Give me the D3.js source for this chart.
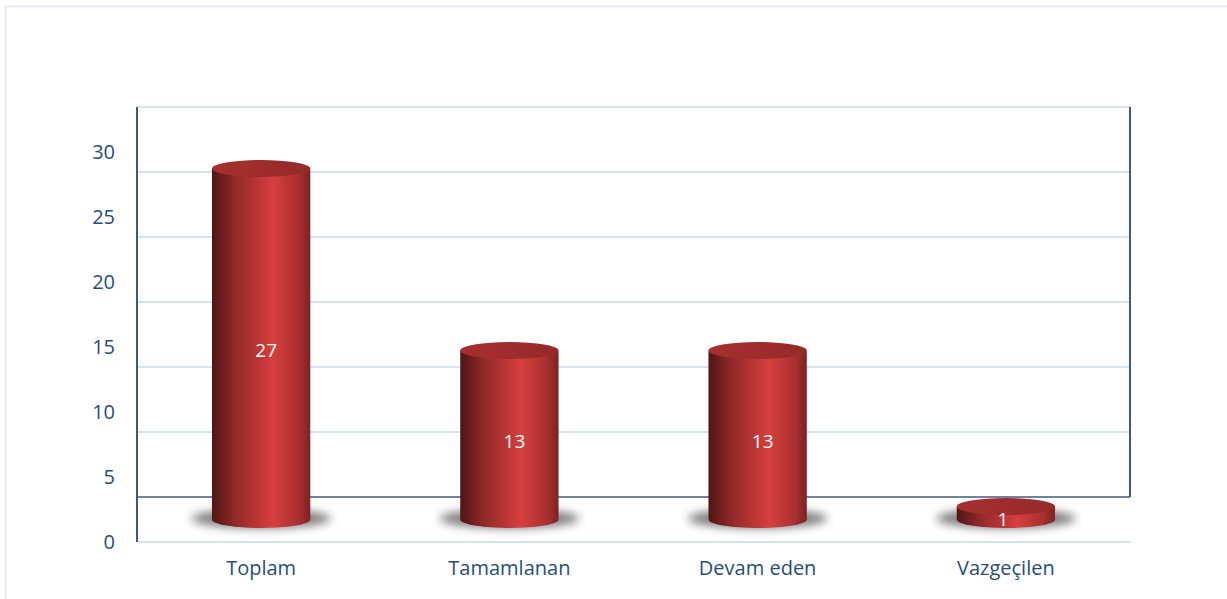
<!DOCTYPE html>
<html>
<head>
<meta charset="utf-8">
<script src="https://cdn.jsdelivr.net/npm/d3@7"></script>
<style>
  body { margin: 0; background: #fff; }
  svg text { font-family: "Open Sans", "Noto Sans", sans-serif; }
</style>
</head>
<body>
<svg id="chart" width="1227" height="599"></svg>
<script>
// chart data
var categories = ["Toplam", "Tamamlanan", "Devam eden", "Vazgeçilen"];
var values = [27, 13, 13, 1];
var yTicks = [0, 5, 10, 15, 20, 25, 30];

var width = 1227,
    height = 599,
    svg = d3.select("#chart");

// plot area (front plane), depth shifts the back wall up
var left = 137, right = 1130,
    front0 = 542, depth = 45;

var x = d3.scaleBand().domain(categories).range([left, right]);
var y = d3.scaleLinear().domain([0, 30]).range([front0, front0 - 390]);

var textColor = "#264d7e";

// outer chart border
svg.append("rect")
  .attr("x", 5.5).attr("y", 6.5)
  .attr("width", 1240).attr("height", 620)
  .attr("fill", "none")
  .attr("stroke", "#dae4f2")
  .attr("stroke-width", 1.5);

var defs = svg.append("defs");

// body gradient: dark left edge, highlight right of centre
var body = defs.append("linearGradient").attr("id", "cylBody")
  .attr("x1", "0%").attr("x2", "100%").attr("y1", "0%").attr("y2", "0%");
body.append("stop").attr("offset", "0%").attr("stop-color", "#4e1616");
body.append("stop").attr("offset", "22%").attr("stop-color", "#8e2828");
body.append("stop").attr("offset", "62%").attr("stop-color", "#d63f3e");
body.append("stop").attr("offset", "88%").attr("stop-color", "#a83030");
body.append("stop").attr("offset", "100%").attr("stop-color", "#7d2222");

var top_ = defs.append("linearGradient").attr("id", "cylTop")
  .attr("x1", "0%").attr("x2", "100%").attr("y1", "0%").attr("y2", "0%");
top_.append("stop").attr("offset", "0%").attr("stop-color", "#a72f2f");
top_.append("stop").attr("offset", "100%").attr("stop-color", "#962a2a");

defs.append("filter").attr("id", "blur")
  .attr("x", "-30%").attr("y", "-100%").attr("width", "160%").attr("height", "300%")
  .append("feGaussianBlur").attr("stdDeviation", 5);

// back wall gridlines
svg.append("g").attr("class", "grid")
  .selectAll("line")
  .data(yTicks.filter(function (d) { return d > 0; }))
  .enter().append("line")
  .attr("x1", left).attr("x2", right)
  .attr("y1", function (d) { return y(d) - depth; })
  .attr("y2", function (d) { return y(d) - depth; })
  .attr("stroke", "#d6e2f2")
  .attr("stroke-width", 2);

// floor front edge
svg.append("line")
  .attr("x1", left).attr("x2", right + 1)
  .attr("y1", y(0)).attr("y2", y(0))
  .attr("stroke", "#d6e2f2").attr("stroke-width", 2);

// floor back edge and walls
svg.append("line")
  .attr("x1", left).attr("x2", right)
  .attr("y1", y(0) - depth).attr("y2", y(0) - depth)
  .attr("stroke", "#3c5a80").attr("stroke-width", 1.5);
svg.append("line")
  .attr("x1", right).attr("x2", right)
  .attr("y1", y(30) - depth).attr("y2", y(0) - depth)
  .attr("stroke", "#3c5a80").attr("stroke-width", 2);
svg.append("line")
  .attr("x1", left).attr("x2", left)
  .attr("y1", y(30) - depth).attr("y2", y(0))
  .attr("stroke", "#3c5a80").attr("stroke-width", 2);

// y axis labels on the front plane
var yAxis = svg.append("g")
  .attr("transform", "translate(" + (left - 22) + ",0)")
  .call(d3.axisLeft(y).tickValues(yTicks).tickSize(0).tickPadding(0));
yAxis.select(".domain").remove();
yAxis.selectAll("text")
  .attr("fill", textColor)
  .style("font-size", "20px")
  .style("font-family", "'Open Sans', 'Noto Sans', sans-serif");

// x axis labels
var xAxis = svg.append("g")
  .attr("transform", "translate(0," + (y(0) + 19) + ")")
  .call(d3.axisBottom(x).tickSize(0).tickPadding(0));
xAxis.select(".domain").remove();
xAxis.selectAll("text")
  .attr("fill", textColor)
  .style("font-size", "20px")
  .style("font-family", "'Open Sans', 'Noto Sans', sans-serif");

// cylinders
var base = y(0) - depth / 2;
var rx = x.bandwidth() * 0.198, ry = 8.5;
var data = categories.map(function (c, i) { return { cat: c, value: values[i] }; });

var bars = svg.append("g").attr("class", "bars")
  .selectAll("g")
  .data(data)
  .enter().append("g")
  .attr("transform", function (d) { return "translate(" + (x(d.cat) + x.bandwidth() / 2) + ",0)"; });

// soft floor shadow
bars.append("ellipse")
  .attr("cx", 0).attr("cy", base - 1)
  .attr("rx", rx * 1.42).attr("ry", 10)
  .attr("fill", "#6f6f6f")
  .attr("opacity", 0.9)
  .attr("filter", "url(#blur)");

// body: rectangle plus bottom half-ellipse
bars.append("path")
  .attr("d", function (d) {
    var topY = base - (y(0) - y(d.value));
    return "M" + (-rx) + "," + topY +
      "L" + (-rx) + "," + base +
      "A" + rx + "," + ry + " 0 0 0 " + rx + "," + base +
      "L" + rx + "," + topY + "Z";
  })
  .attr("fill", "url(#cylBody)");

bars.append("ellipse")
  .attr("cx", 0)
  .attr("cy", function (d) { return base - (y(0) - y(d.value)); })
  .attr("rx", rx).attr("ry", ry)
  .attr("fill", "url(#cylTop)");

// value labels
bars.append("text")
  .attr("x", function (d) { return d.value > 5 ? 5 : -3; })
  .attr("y", function (d) { return base - (y(0) - y(d.value)) / 2 + 8; })
  .attr("text-anchor", "middle")
  .attr("dominant-baseline", "middle")
  .attr("fill", "#fff")
  .style("font-size", "19px")
  .text(function (d) { return d.value; });
</script>
</body>
</html>
